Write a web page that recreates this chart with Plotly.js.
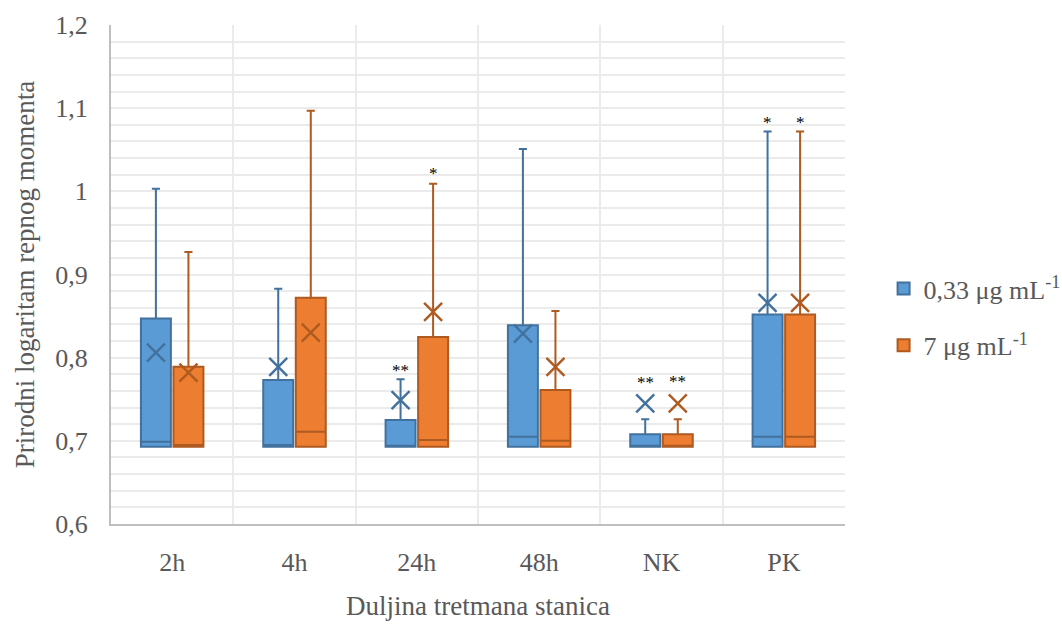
<!DOCTYPE html>
<html>
<head>
<meta charset="utf-8">
<script src="https://cdn.plot.ly/plotly-3.0.1.min.js"></script>
<style>html,body{margin:0;padding:0;background:#fff;}#chart{width:1062px;height:628px;}</style>
</head>
<body>
<div id="chart"></div>
<script>
// ---- data ----
const categories = ["2h", "4h", "24h", "48h", "NK", "PK"];
const seriesNames = ["0,33 μg mL<sup>-1</sup>", "7 μg mL<sup>-1</sup>"];

const lowA    = [0.693, 0.693, 0.693, 0.693, 0.693, 0.693];
const q1A     = [0.693, 0.693, 0.693, 0.693, 0.693, 0.693];
const medA    = [0.699, 0.695, 0.694, 0.705, 0.694, 0.705];
const q3A     = [0.847, 0.773, 0.725, 0.839, 0.708, 0.852];
const highA   = [1.003, 0.883, 0.774, 1.051, 0.726, 1.072];
const meanA   = [0.806, 0.789, 0.749, 0.829, 0.745, 0.866];

const lowB    = [0.693, 0.693, 0.693, 0.693, 0.693, 0.693];
const q1B     = [0.693, 0.693, 0.693, 0.693, 0.693, 0.693];
const medB    = [0.695, 0.711, 0.701, 0.700, 0.694, 0.705];
const q3B     = [0.789, 0.872, 0.825, 0.761, 0.708, 0.852];
const highB   = [0.927, 1.097, 1.009, 0.856, 0.726, 1.072];
const meanB   = [0.782, 0.830, 0.855, 0.789, 0.745, 0.866];

// significance marks: [category index, series index, label, y]
const starCat    = [2, 2, 4, 4, 5, 5];
const starSeries = [0, 1, 0, 1, 0, 1];
const starText   = ["**", "*", "**", "**", "*", "*"];
const starY      = [0.791, 1.028, 0.776, 0.777, 1.089, 1.089];

const yTicks = [0.6, 0.7, 0.8, 0.9, 1.0, 1.1, 1.2];

// ---- styling ----
const fills = ["#5B9BD5", "#ED7D31"];
const edges = ["#41719C", "#AE5A21"];
const offset = 0.133;
const boxW = 0.245;
const serif = "Liberation Serif, Times New Roman, serif";
const txtCol = "#595959";

const idx = categories.map((c, i) => i);
const xs = [idx.map(i => i - offset), idx.map(i => i + offset)];
const stats = [
  {low: lowA, q1: q1A, med: medA, q3: q3A, high: highA, mean: meanA},
  {low: lowB, q1: q1B, med: medB, q3: q3B, high: highB, mean: meanB}
];

const traces = [];
stats.forEach((s, k) => {
  traces.push({
    type: "box",
    name: seriesNames[k],
    legendgroup: "g" + k,
    x: xs[k],
    q1: s.q1, median: s.med, q3: s.q3,
    lowerfence: s.low, upperfence: s.high,
    width: boxW,
    whiskerwidth: 0.27,
    fillcolor: fills[k],
    line: {color: edges[k], width: 2},
    hoverinfo: "skip"
  });
});
stats.forEach((s, k) => {
  traces.push({
    type: "scatter",
    mode: "markers",
    x: xs[k],
    y: s.mean,
    showlegend: false,
    hoverinfo: "skip",
    marker: {symbol: "x-thin-open", size: 18, line: {color: edges[k], width: 2.4}, color: edges[k]}
  });
});

const annotations = starText.map((t, j) => ({
  x: xs[starSeries[j]][starCat[j]],
  y: starY[j],
  xref: "x", yref: "y",
  text: t,
  showarrow: false,
  font: {family: serif, size: 17, color: "#000"},
  yanchor: "middle",
  yshift: -5
}));

const layout = {
  width: 1062, height: 628,
  margin: {l: 111, r: 217, t: 25, b: 104, autoexpand: false},
  paper_bgcolor: "#fff", plot_bgcolor: "#fff",
  separators: ", ",
  showlegend: true,
  legend: {
    xref: "container", yref: "container",
    x: 0.832, y: 0.495, xanchor: "left", yanchor: "middle",
    font: {family: serif, size: 26, color: txtCol},
    tracegroupgap: 20, traceorder: "grouped"
  },
  font: {family: serif, color: txtCol},
  xaxis: {
    range: [-0.5, categories.length - 0.5],
    tickmode: "array",
    tickvals: idx,
    ticktext: categories,
    ticks: "",
    ticklabelstandoff: 14,
    showgrid: false,
    zeroline: false,
    showline: true, linecolor: "#bfbfbf", linewidth: 2,
    tickfont: {family: serif, size: 26, color: txtCol},
    minor: {tickmode: "array", tickvals: idx.map(i => i + 0.5), showgrid: true, gridcolor: "#ebebeb", gridwidth: 2, ticks: ""},
    title: {text: "Duljina tretmana stanica", font: {family: serif, size: 27, color: txtCol}, standoff: 20},
    fixedrange: true
  },
  yaxis: {
    range: [0.6, 1.2],
    tickmode: "array",
    tickvals: yTicks,
    ticktext: yTicks.map(v => String(v).replace(".", ",")),
    showgrid: true, gridcolor: "#ebebeb", gridwidth: 2,
    minor: {dtick: 0.02, showgrid: true, gridcolor: "#ebebeb", gridwidth: 2, ticks: ""},
    zeroline: false,
    showline: true, linecolor: "#bfbfbf", linewidth: 2,
    ticks: "", ticklen: 0,
    ticklabelstandoff: 16,
    tickfont: {family: serif, size: 26, color: txtCol},
    title: {text: "Prirodni logaritam repnog momenta", font: {family: serif, size: 27, color: txtCol}, standoff: 13},
    fixedrange: true
  },
  annotations: annotations
};

Plotly.newPlot("chart", traces, layout, {staticPlot: true, displayModeBar: false});
</script>
</body>
</html>
